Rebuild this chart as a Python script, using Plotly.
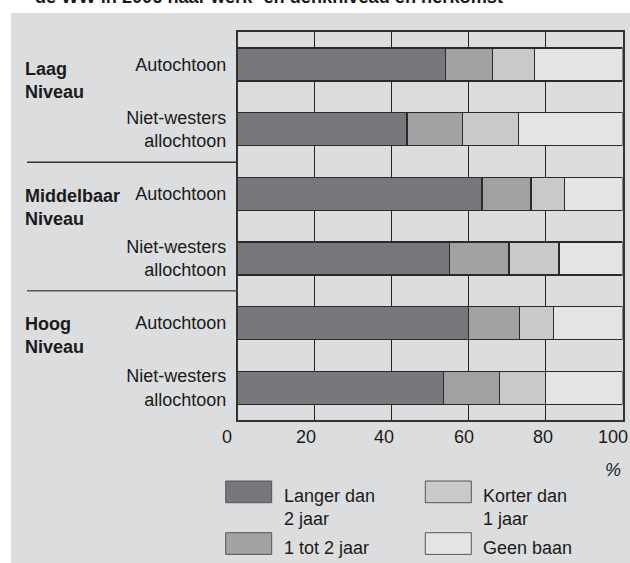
import plotly.graph_objects as go

W, H = 630, 563

title_text = "de WW in 2006 naar werk- en denkniveau en herkomst"
groups = ["Laag<br>Niveau", "Middelbaar<br>Niveau", "Hoog<br>Niveau"]
categories = ["Autochtoon", "Niet-westers<br>allochtoon",
              "Autochtoon", "Niet-westers<br>allochtoon",
              "Autochtoon", "Niet-westers<br>allochtoon"]
series_names = ["Langer dan<br>2 jaar", "1 tot 2 jaar", "Korter dan<br>1 jaar", "Geen baan"]
langer_dan_2 = [54, 44, 63.5, 55, 60, 53.5]
een_tot_2 = [12.3, 14.5, 12.7, 15.5, 13.2, 14.5]
korter_dan_1 = [10.8, 14.5, 8.8, 13, 8.8, 11.9]
geen_baan = [22.9, 27, 15, 16.5, 18, 20.1]
x_ticks = [0, 20, 40, 60, 80, 100]
x_tick_labels = ["0", "20", "40", "60", "80", "100"]

# label pixel offsets (style only), as placed in the reference
x_label_shift = [-11, -9, -7.5, -5, -2.5, -10]

series_values = [langer_dan_2, een_tot_2, korter_dan_1, geen_baan]
colors = ["#77787b", "#a1a2a4", "#c8c9cb", "#e3e4e5"]
BG = "#dcdddf"
FONT = "Liberation Sans, Arial, Helvetica, sans-serif"

def px_x(x):
    return x / W

def px_y(y):
    return (H - y) / H

ypos = list(range(len(categories)))

fig = go.Figure()
for name, vals, col in zip(series_names, series_values, colors):
    fig.add_trace(go.Bar(
        y=ypos, x=vals, orientation="h", name=name,
        marker=dict(color=col, line=dict(color="#2a2a2a", width=1.3)),
        width=0.51, showlegend=False, hoverinfo="x+name",
    ))

shapes = []
# gray panel
shapes.append(dict(type="rect", xref="paper", yref="paper",
                   x0=px_x(11), x1=1.0, y0=0, y1=px_y(13),
                   fillcolor=BG, line=dict(width=0), layer="below"))
# separator lines
for yy, c in [(162.3, "#333333"), (290.7, "#555555")]:
    shapes.append(dict(type="line", xref="paper", yref="paper",
                       x0=px_x(27), x1=px_x(237.7), y0=px_y(yy), y1=px_y(yy),
                       line=dict(color=c, width=1.5)))

annotations = []
# title (partly cut off at the top, as in the reference)
annotations.append(dict(text="<b>" + title_text + "</b>", xref="paper", yref="paper",
                        x=px_x(33), y=px_y(9.5), xanchor="left", yanchor="bottom",
                        showarrow=False, font=dict(family=FONT, size=18.2, color="#1a1a1a")))
# group labels
for g, ytop in zip(groups, [57, 184, 312]):
    annotations.append(dict(text="<b>" + g + "</b>", xref="paper", yref="paper",
                            x=px_x(23), y=px_y(ytop), xanchor="left", yanchor="top",
                            align="left", showarrow=False,
                            font=dict(family=FONT, size=18, color="#1a1a1a")))
# x tick labels, placed on the x axis scale
for tv, tl, sh in zip(x_ticks, x_tick_labels, x_label_shift):
    annotations.append(dict(text=tl, xref="x", yref="paper",
                            x=tv, y=px_y(437), xanchor="center", yanchor="middle",
                            xshift=sh, showarrow=False,
                            font=dict(family=FONT, size=18, color="#1a1a1a")))
# percent sign
annotations.append(dict(text="<i>%</i>", xref="paper", yref="paper",
                        x=px_x(613), y=px_y(470), xanchor="center", yanchor="middle",
                        showarrow=False, font=dict(family=FONT, size=18, color="#1a1a1a")))

# legend (manual)
legend_boxes = [(225.7, 481), (225.7, 532.7), (425.3, 481), (425.3, 532.7)]
for (bx, by), name, col in zip(legend_boxes, series_names, colors):
    shapes.append(dict(type="rect", xref="paper", yref="paper",
                       x0=px_x(bx), x1=px_x(bx + 46), y0=px_y(by + 21.7), y1=px_y(by),
                       fillcolor=col, line=dict(color="#555555", width=1)))
    annotations.append(dict(text=name, xref="paper", yref="paper",
                            x=px_x(bx + 56), y=px_y(by + 3), xanchor="left", yanchor="top",
                            align="left", showarrow=False,
                            font=dict(family=FONT, size=18, color="#1a1a1a")))

fig.update_layout(
    width=W, height=H,
    margin=dict(l=0, r=0, t=0, b=0),
    paper_bgcolor="white",
    plot_bgcolor="white",
    barmode="stack",
    font=dict(family=FONT, size=18, color="#1a1a1a"),
    shapes=shapes,
    annotations=annotations,
    xaxis=dict(domain=[px_x(237.7), px_x(622.5)], range=[0, 100],
               tickvals=x_ticks, showticklabels=False,
               showgrid=True, gridcolor="#222222", gridwidth=1.3,
               showline=True, linecolor="#333333", linewidth=1.5, mirror=True,
               zeroline=False, ticks="", fixedrange=True),
    yaxis=dict(domain=[px_y(420), px_y(32.3)], range=[len(categories) - 0.5, -0.5],
               tickvals=ypos, ticktext=categories,
               showgrid=False, showline=True, linecolor="#333333", linewidth=1.5, mirror=True,
               zeroline=False, ticks="", ticklabelstandoff=6,
               tickfont=dict(family=FONT, size=18, color="#1a1a1a"), fixedrange=True),
)

fig.write_html("out.html", config={"displayModeBar": False},
               post_script="document.body.style.margin='0px';document.body.style.overflow='hidden';")
